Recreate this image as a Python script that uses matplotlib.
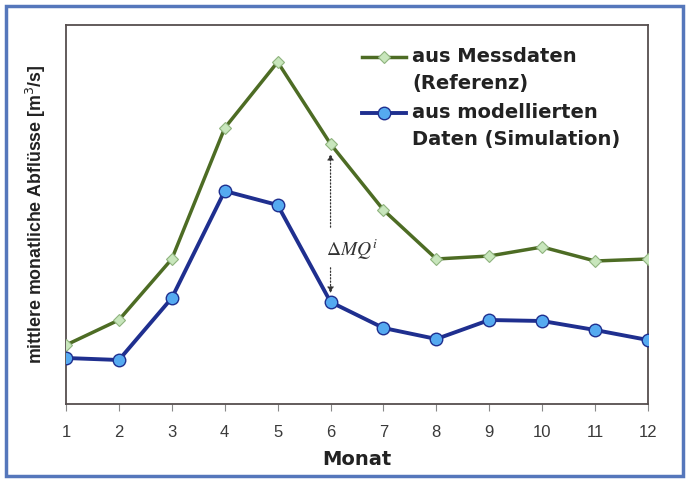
## monthly mean discharge: measured vs. simulated

import matplotlib.pyplot as plt
from matplotlib.lines import Line2D
from matplotlib.patches import Rectangle

months = [1, 2, 3, 4, 5, 6, 7, 8, 9, 10, 11, 12]
q_mess = [5.9, 8.4, 14.5, 27.6, 34.2, 26.0, 19.4, 14.5, 14.8, 15.7, 14.3, 14.5]
q_sim = [4.6, 4.4, 10.6, 21.3, 19.9, 10.2, 7.6, 6.5, 8.4, 8.3, 7.4, 6.4]
label_mess = ['aus Messdaten', '(Referenz)']
label_sim = ['aus modellierten', 'Daten (Simulation)']
diff_month = 6

plt.rcParams['font.family'] = ['Liberation Sans', 'DejaVu Sans']

GREEN = '#4d6c24'
BLUE = '#1f2f8f'
mess_style = dict(color=GREEN, lw=2.5, marker='D', ms=6, mfc='#c8e6bc',
                  mec='#8fb37e', mew=0.8)
sim_style = dict(color=BLUE, lw=2.8, marker='o', ms=9, mfc='#55aaf0',
                 mec=BLUE, mew=1.0)

fig = plt.figure(figsize=(6.87, 4.79), dpi=100)
ax = fig.add_axes([66 / 687, 1 - 404 / 479, 582 / 687, 379 / 479])

ax.plot(months, q_mess, zorder=3, **mess_style)
ax.plot(months, q_sim, zorder=3, **sim_style)

# delta annotation at month 6 (dotted arrows up / down from the label)
i = months.index(diff_month)
top = q_mess[i]
bot = q_sim[i]
txt_y = 15.4
arrow_kw = dict(arrowstyle='-|>', lw=0.9, ls=':', color='#333333', mutation_scale=9)
ax.annotate('', xy=(diff_month, top - 0.7), xytext=(diff_month, txt_y + 2.0),
            arrowprops=arrow_kw)
ax.annotate('', xy=(diff_month, bot + 0.6), xytext=(diff_month, txt_y - 1.5),
            arrowprops=arrow_kw)
ax.text(diff_month - 0.09, txt_y, r'$\mathit{\Delta MQ^i}$', fontsize=14,
        math_fontfamily='stix', ha='left', va='center', color='#333333')

ax.set_xlim(1, 12)
ax.set_ylim(0, 37.9)
ax.set_xticks(months)
ax.set_yticks([])
ax.tick_params(axis='x', labelsize=12, length=5, color='#888888',
               pad=10, labelcolor='#3a3a3a')
for s in ax.spines.values():
    s.set_color('#564e4e')
    s.set_linewidth(1.3)

ax.set_xlabel('Monat', fontsize=14, fontweight='bold', family='DejaVu Sans',
              labelpad=7, color='#222222')
ax.set_ylabel('mittlere monatliche Abflüsse [m$^3$/s]', fontsize=12.8,
              fontweight='bold', labelpad=13, color='#222222')

# legend drawn by hand so the handle sits on the first text line
def ax_x(px):
    return (px - 66) / 582

def ax_y(py):
    return (404 - py) / 379

for style, lines, ys in [(mess_style, label_mess, (57, 83)),
                         (sim_style, label_sim, (113, 140))]:
    h = Line2D([ax_x(362), ax_x(384), ax_x(406)], [ax_y(ys[0])] * 3,
               transform=ax.transAxes, clip_on=False, markevery=[1], **style)
    ax.add_line(h)
    for line, y in zip(lines, ys):
        ax.text(ax_x(412), ax_y(y), line, transform=ax.transAxes, fontsize=14,
                fontweight='bold', family='DejaVu Sans', color='#222222',
                ha='left', va='center')

# blue frame around the whole picture
fig.patches.append(Rectangle((6 / 687, 3 / 479), 677 / 687, 470 / 479,
                             transform=fig.transFigure, fill=False,
                             ec='#5577bb', lw=2.5))

fig.savefig('out.png', dpi=100)
